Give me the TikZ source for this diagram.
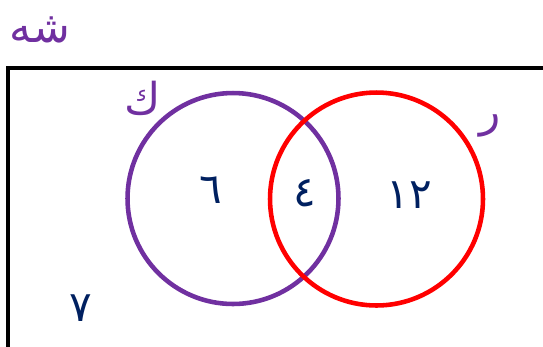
\documentclass[tikz,border=0pt]{standalone}
\usepackage{fontspec}
\usetikzlibrary{positioning}
\newfontfamily\arabicfont[Script=Arabic]{DejaVu Sans}
\TeXXeTstate=1
\definecolor{vennpurple}{HTML}{7030A0}
\definecolor{vennred}{HTML}{FF0000}
\definecolor{vennnavy}{HTML}{002060}

\begin{document}
\begin{tikzpicture}[
    x=0.02cm, y=-0.02cm,
    setcircle/.style={circle, draw, line width=2.6pt, inner sep=0pt},
    setname/.style={font=\arabicfont\fontsize{25}{29}\selectfont, text=vennpurple, inner sep=0pt},
    count/.style={font=\arabicfont\fontsize{24}{28}\selectfont, text=vennnavy, inner sep=0pt}
]
\useasboundingbox (0,0) rectangle (543,346);

% universal set
\draw [line width=2.3pt] (560,68) -- (8,68) -- (8,360);
\node [setname] (u) at (40,30) {\beginR شه\endR};

% the two sets
\node [setcircle, draw=vennpurple, minimum size=4.22cm] (k) at (233,198.5) {};
\node [setcircle, draw=vennred, minimum size=4.26cm] (r) at (376.5,199) {};
\node [setname] (klabel) at (143,98) {\beginR ك\endR};
\node [setname] (rlabel) at (490,126) {\beginR ر\endR};

% counts
\node [count] (konly) at (211,190) {٦};
\node [count] (both) at (305,193) {٤};
\node [count] (ronly) at (409,195) {\beginR ١٢\endR};
\node [count] (none) at (81,308) {٧};

\end{tikzpicture}
\end{document}
